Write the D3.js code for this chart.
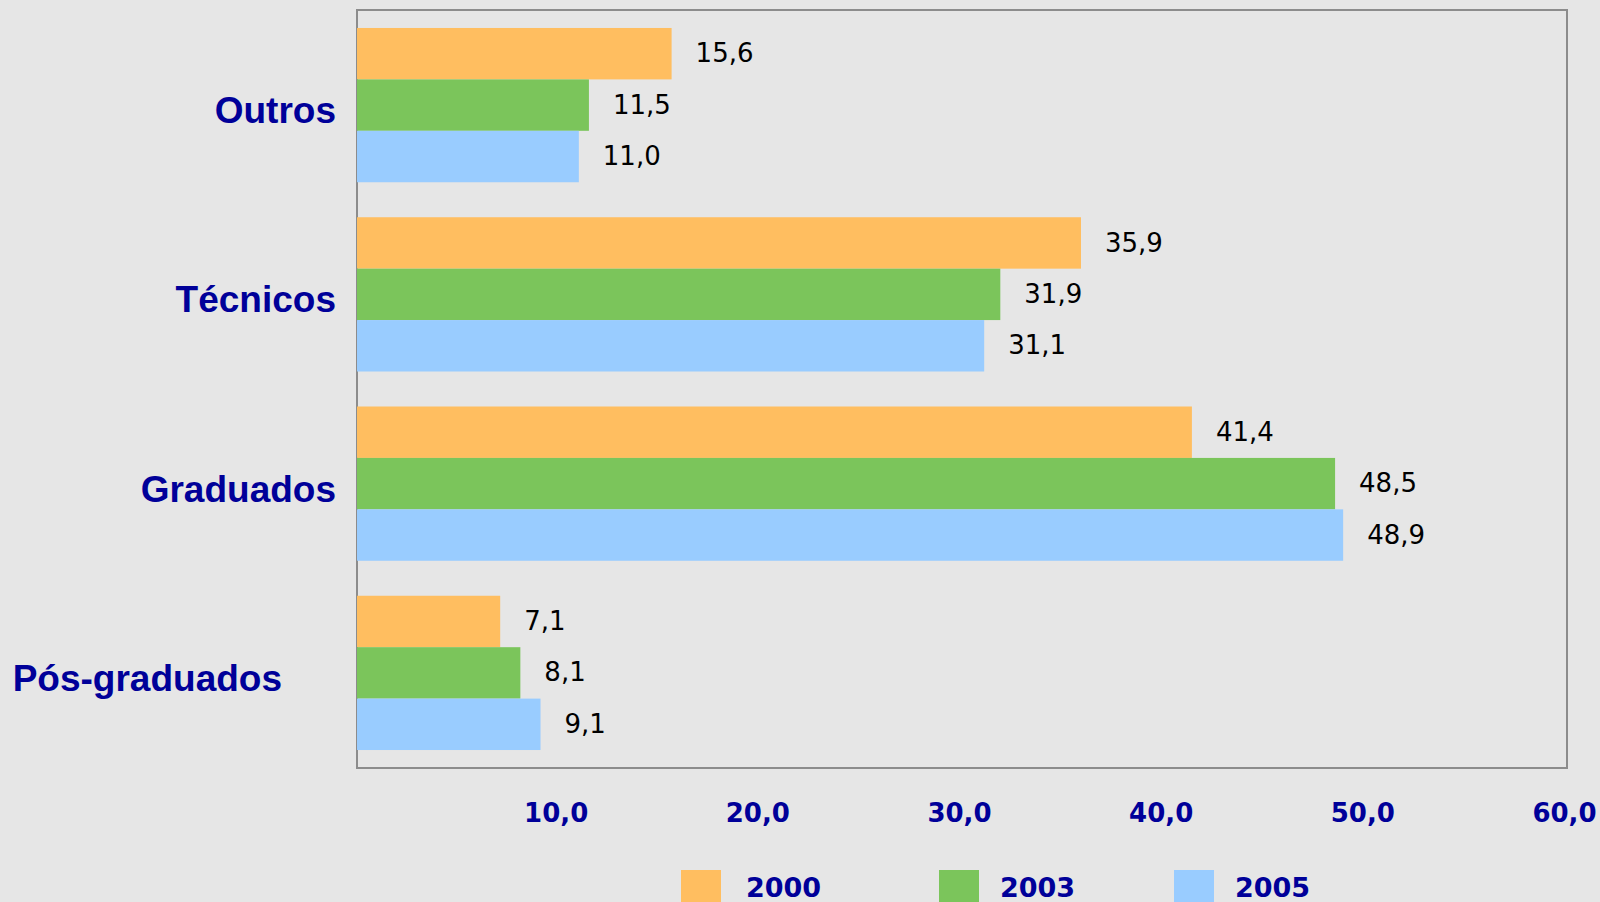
<!DOCTYPE html>
<html>
<head>
<meta charset="utf-8">
<script src="https://cdn.jsdelivr.net/npm/d3@7"></script>
<style>
  body { margin: 0; background: #e6e6e6; overflow: hidden; }
</style>
</head>
<body>
<div id="chart"></div>
<script>
let categories = ["Outros", "Técnicos", "Graduados", "Pós-graduados"]
let years = ["2000", "2003", "2005"]
let v2000 = [15.6, 35.9, 41.4, 7.1]
let v2003 = [11.5, 31.9, 48.5, 8.1]
let v2005 = [11.0, 31.1, 48.9, 9.1]
let xTicks = [10, 20, 30, 40, 50, 60]

let colors = ["#ffbe60", "#7bc55b", "#99ccff"]
let series = [v2000, v2003, v2005]

let width = 1600, height = 902
let frame = { left: 357, top: 10, right: 1567, bottom: 768 }

let locale = d3.formatLocale({ decimal: ",", thousands: ".", grouping: [3], currency: ["", ""] })
let fmt = locale.format(".1f")

let svg = d3.select("#chart")
  .append("svg")
  .attr("width", width)
  .attr("height", height)

svg.append("rect")
  .attr("width", width)
  .attr("height", height)
  .attr("fill", "#e6e6e6")

let xScale = d3.scaleLinear()
  .domain([0, 60])
  .range([frame.left, frame.right])

let yScale = d3.scaleBand()
  .domain(categories)
  .range([frame.top, frame.bottom])
  .paddingInner(0.185)
  .paddingOuter(0.095)

let ySub = d3.scaleBand()
  .domain(years)
  .range([0, yScale.bandwidth()])

// frame
svg.append("rect")
  .attr("x", frame.left)
  .attr("y", frame.top)
  .attr("width", frame.right - frame.left)
  .attr("height", frame.bottom - frame.top)
  .attr("fill", "none")
  .attr("stroke", "#8c8c8c")
  .attr("stroke-width", 2)

// bars
let rows = []
categories.forEach((c, i) => {
  years.forEach((y, j) => {
    rows.push({ cat: c, year: y, value: series[j][i], color: colors[j] })
  })
})

let g = svg.append("g")
g.selectAll(".bar")
  .data(rows)
  .enter()
  .append("rect")
    .attr("class", "bar")
    .attr("x", xScale(0))
    .attr("y", d => yScale(d.cat) + ySub(d.year))
    .attr("width", d => xScale(d.value) - xScale(0))
    .attr("height", ySub.bandwidth())
    .attr("fill", d => d.color)

g.selectAll(".val")
  .data(rows)
  .enter()
  .append("text")
    .attr("class", "val")
    .attr("x", d => xScale(d.value) + 24)
    .attr("y", d => yScale(d.cat) + ySub(d.year) + ySub.bandwidth() / 2)
    .attr("dy", "0.33em")
    .attr("font-family", "DejaVu Sans, Verdana, sans-serif")
    .attr("font-size", 26)
    .attr("fill", "#000")
    .text(d => fmt(d.value))

// category labels
svg.selectAll(".cat")
  .data(categories)
  .enter()
  .append("text")
    .attr("class", "cat")
    .attr("x", d => d === "Pós-graduados" ? 282 : 336)
    .attr("y", d => yScale(d) + yScale.bandwidth() / 2 + 18)
    .attr("text-anchor", "end")
    .attr("font-family", "Liberation Sans, Arial, sans-serif")
    .attr("font-weight", "bold")
    .attr("font-size", 37)
    .attr("fill", "#000099")
    .text(d => d)

// x axis
let xAxis = d3.axisBottom(xScale)
  .tickValues(xTicks)
  .tickSize(0)
  .tickFormat(fmt)
let ax = svg.append("g")
  .attr("class", "xaxis")
  .attr("transform", "translate(0," + frame.bottom + ")")
  .call(xAxis)
ax.select(".domain").remove()
ax.selectAll("text")
  .attr("y", 54)
  .attr("dy", 0)
  .attr("dx", -3)
  .attr("font-family", "DejaVu Sans, Verdana, sans-serif")
  .attr("font-weight", "bold")
  .attr("font-size", 26)
  .attr("fill", "#000099")

// legend
let legendX = [681, 939, 1174]
let legend = svg.selectAll(".leg")
  .data(years)
  .enter()
  .append("g")
    .attr("class", "leg")
    .attr("transform", (d, i) => "translate(" + legendX[i] + ",870)")
legend.append("rect")
  .attr("width", 40)
  .attr("height", 40)
  .attr("fill", (d, i) => colors[i])
legend.append("text")
  .attr("x", (d, i) => i === 0 ? 65 : 61)
  .attr("y", 27)
  .attr("font-family", "DejaVu Sans, Verdana, sans-serif")
  .attr("font-weight", "bold")
  .attr("font-size", 27)
  .attr("fill", "#000099")
  .text(d => d)
</script>
</body>
</html>
